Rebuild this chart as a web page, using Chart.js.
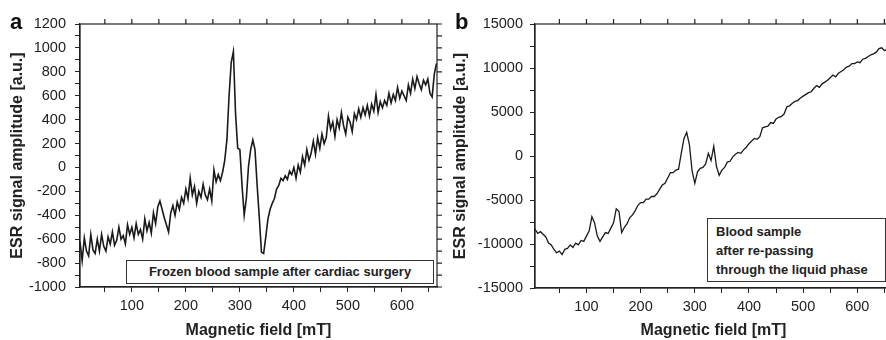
<!DOCTYPE html>
<html lang="en">
<head>
<meta charset="UTF-8">
<title>ESR spectra of blood samples</title>
<script src="https://cdn.jsdelivr.net/npm/chart.js@4"></script>
<style>
    body {
        margin: 0;
        background: #fff;
        font-family: "Liberation Sans", Arial, sans-serif;
    }
    #wrap {
        position: relative;
        width: 886px;
        height: 340px;
        overflow: hidden;
    }
    canvas { position: absolute; top: 0; }
    #chartA { left: 0; }
    #chartB { left: 443px; }
    .panel {
        position: absolute;
        font-weight: bold;
        font-size: 22px;
        line-height: 1;
        color: #111;
    }
    .note {
        position: absolute;
        box-sizing: border-box;
        border: 1px solid #333;
        background: #fff;
        font-weight: bold;
        font-size: 13px;
        color: #222;
    }
</style>
</head>
<body>
<div id="wrap">
    <canvas id="chartA" width="443" height="340"></canvas>
    <canvas id="chartB" width="452" height="340"></canvas>
    <div class="panel" style="left:10px; top:11px;">a</div>
    <div class="panel" style="left:455px; top:11px;">b</div>
    <div class="note" style="left:126px; top:260px; width:308px; height:24px; line-height:22px; text-align:center;">Frozen blood sample after cardiac surgery</div>
    <div class="note" style="left:707px; top:218px; width:179px; height:64px; padding:3px 0 0 8px; line-height:19px;">Blood sample<br>after re-passing<br>through the liquid phase</div>
</div>

<script>
    // panel a: frozen blood sample, field [mT] vs amplitude [a.u.]
    const fieldA = [
        4, 8, 12, 16, 20, 24, 28, 32, 36, 40,
        44, 48, 52, 56, 60, 64, 68, 72, 76, 80,
        84, 88, 92, 96, 100, 104, 108, 112, 116, 120,
        124, 128, 132, 136, 140, 144, 148, 152, 156, 160,
        164, 168, 172, 176, 180, 184, 188, 192, 196, 200,
        204, 208, 212, 216, 220, 224, 228, 232, 236, 240,
        244, 248, 252, 256, 260, 264, 268, 272, 276, 280,
        284, 288, 292, 296, 300, 304, 308, 312, 316, 320,
        324, 328, 332, 336, 340, 344, 348, 352, 356, 360,
        364, 368, 372, 376, 380, 384, 388, 392, 396, 400,
        404, 408, 412, 416, 420, 424, 428, 432, 436, 440,
        444, 448, 452, 456, 460, 464, 468, 472, 476, 480,
        484, 488, 492, 496, 500, 504, 508, 512, 516, 520,
        524, 528, 532, 536, 540, 544, 548, 552, 556, 560,
        564, 568, 572, 576, 580, 584, 588, 592, 596, 600,
        604, 608, 612, 616, 620, 624, 628, 632, 636, 640,
        644, 648, 652, 656, 660, 664
    ];
    const ampA = [
        -620, -780, -590, -700, -740, -560, -690, -720, -600, -700,
        -560, -660, -700, -580, -640, -540, -650, -610, -500, -600,
        -570, -640, -480, -560, -500, -590, -470, -560, -520, -600,
        -430, -530, -460, -550, -380, -470, -330, -280, -350, -420,
        -480, -540, -380, -320, -400, -290, -350, -250, -300, -180,
        -260, -90, -230, -160, -300, -200, -250, -140, -230, -270,
        -180, -280, -20, -120, -60, -110, -40, 60, 230, 600,
        880, 970, 450, 160, 150, -150, -400, -260, 10, 150,
        230, 150, -150, -420, -710, -720, -580, -430, -350, -300,
        -260, -180, -150, -90, -110, -70, -100, -30, -60, 0,
        -90, 20, -40, 90, 20, 150, 60, 120, 220, 110,
        250, 160, 280, 200, 250, 430, 320, 380, 260, 400,
        330, 460, 350, 280, 420, 380, 300, 450, 400, 490,
        420, 500, 440, 520, 430, 530, 470, 610, 460, 550,
        500, 560, 520, 620, 540, 610, 560, 670, 580, 640,
        600, 560, 690, 620, 740, 660, 760, 700, 650, 730,
        690, 740, 620, 590, 780, 870
    ];

    // panel b: blood sample after re-passing through the liquid phase
    const fieldB = [
        5, 10, 15, 20, 25, 30, 35, 40, 45, 50,
        55, 60, 65, 70, 75, 80, 85, 90, 95, 100,
        105, 110, 115, 120, 125, 130, 135, 140, 145, 150,
        155, 160, 165, 170, 175, 180, 185, 190, 195, 200,
        205, 210, 215, 220, 225, 230, 235, 240, 245, 250,
        255, 260, 265, 270, 275, 280, 285, 290, 295, 300,
        305, 310, 315, 320, 325, 330, 335, 340, 345, 350,
        355, 360, 365, 370, 375, 380, 385, 390, 395, 400,
        405, 410, 415, 420, 425, 430, 435, 440, 445, 450,
        455, 460, 465, 470, 475, 480, 485, 490, 495, 500,
        505, 510, 515, 520, 525, 530, 535, 540, 545, 550,
        555, 560, 565, 570, 575, 580, 585, 590, 595, 600,
        605, 610, 615, 620, 625, 630, 635, 640, 645, 650,
        655, 660
    ];
    const ampB = [
        -8300, -8800, -8600, -8900, -9200, -9900, -10100, -10600, -11000, -10800,
        -11200, -10600, -10500, -10100, -10400, -9900, -10100, -9600, -9700, -9100,
        -8500, -6900, -7600, -9100, -9700, -9200, -8700, -8800, -8200, -7600,
        -6000, -6300, -8700, -8100, -7700, -7000, -6700, -6200, -5600, -5300,
        -5300, -4900, -4900, -4600, -4600, -4300, -3800, -3300, -3100, -2500,
        -1900, -1900, -1600, -1500, 300, 2000, 2700, 1300, -1700, -3100,
        -1800, -1400, -1300, -900, 300, -500, 1100, -1200, -2200, -1600,
        -1300, -700, -600, -100, 200, 400, 300, 700, 1000, 1400,
        1700, 2000, 1900, 2200, 3200, 3300, 3400, 3800, 3700, 4200,
        4400, 4500, 4800, 5600, 5700, 6000, 6200, 6300, 6600, 6800,
        7000, 7200, 7300, 7700, 8000, 7800, 8200, 8400, 8600, 8900,
        9200, 9000, 9400, 9600, 9800, 10100, 10200, 10500, 10500, 10700,
        10600, 11000, 11100, 11300, 11500, 11600, 11800, 12200, 12300, 12000,
        12100, 12200
    ];

    const ink = '#222';
    const fontFamily = '"Liberation Sans", Arial, sans-serif';

    // closed frame + outward mirror ticks on top and right
    const framePlugin = {
        id: 'frame',
        afterDraw(chart) {
            const { ctx, chartArea: a, scales: { x, y } } = chart;
            ctx.save();
            ctx.strokeStyle = ink;
            ctx.lineWidth = 1.2;
            ctx.strokeRect(a.left, a.top, a.right - a.left, a.bottom - a.top);
            ctx.beginPath();
            x.ticks.forEach(t => {
                const px = x.getPixelForValue(t.value);
                ctx.moveTo(px, a.top);
                ctx.lineTo(px, a.top - 5);
            });
            y.ticks.forEach(t => {
                const py = y.getPixelForValue(t.value);
                ctx.moveTo(a.right, py);
                ctx.lineTo(a.right + 5, py);
            });
            ctx.stroke();
            ctx.restore();
        }
    };

    function makeChart(id, field, amp, o) {
        const points = field.map((f, i) => ({ x: f, y: amp[i] }));
        return new Chart(document.getElementById(id), {
            type: 'line',
            data: {
                datasets: [{
                    data: points,
                    borderColor: '#1a1a1a',
                    borderWidth: o.lineWidth,
                    pointRadius: 0,
                    tension: 0,
                    fill: false
                }]
            },
            options: {
                responsive: false,
                animation: false,
                events: [],
                layout: { padding: { top: 24, right: o.padRight, left: 0, bottom: 0 } },
                plugins: { legend: { display: false }, tooltip: { enabled: false } },
                scales: {
                    x: {
                        type: 'linear',
                        min: o.xMin,
                        max: o.xMax,
                        ticks: {
                            stepSize: 50,
                            includeBounds: false,
                            autoSkip: false,
                            maxRotation: 0,
                            padding: 5,
                            color: ink,
                            font: { family: fontFamily, size: 14.5 },
                            callback: v => v % 100 === 0 ? v : ''
                        },
                        grid: { drawOnChartArea: false, tickLength: 5, color: ink, lineWidth: 1 },
                        border: { color: ink, width: 1.2 },
                        title: {
                            display: true,
                            text: 'Magnetic field [mT]',
                            color: ink,
                            padding: { top: 0, bottom: 0 },
                            font: { family: fontFamily, size: 16, weight: 'bold' }
                        },
                        afterFit: s => { s.height = o.xHeight; }
                    },
                    y: {
                        min: o.yMin,
                        max: o.yMax,
                        ticks: {
                            stepSize: o.yStep / 2,
                            autoSkip: false,
                            padding: o.yPad,
                            color: ink,
                            font: { family: fontFamily, size: 14.5 },
                            callback: v => v % o.yStep === 0 ? v : ''
                        },
                        grid: { drawOnChartArea: false, tickLength: 5, color: ink, lineWidth: 1 },
                        border: { color: ink, width: 1.2 },
                        title: {
                            display: true,
                            text: 'ESR signal amplitude [a.u.]',
                            color: ink,
                            padding: { top: 8, bottom: 0 },
                            font: { family: fontFamily, size: 16, weight: 'bold' }
                        },
                        afterFit: s => { s.width = o.yWidth; }
                    }
                }
            },
            plugins: [framePlugin]
        });
    }

    makeChart('chartA', fieldA, ampA, {
        xMin: 4, xMax: 665, yMin: -1000, yMax: 1200, yStep: 200,
        yWidth: 80, xHeight: 53, padRight: 6, yPad: 9, lineWidth: 1.6
    });
    makeChart('chartB', fieldB, ampB, {
        xMin: 5, xMax: 664, yMin: -15000, yMax: 15000, yStep: 5000,
        yWidth: 92, xHeight: 52, padRight: 3, yPad: 7, lineWidth: 1.3
    });
</script>
</body>
</html>
